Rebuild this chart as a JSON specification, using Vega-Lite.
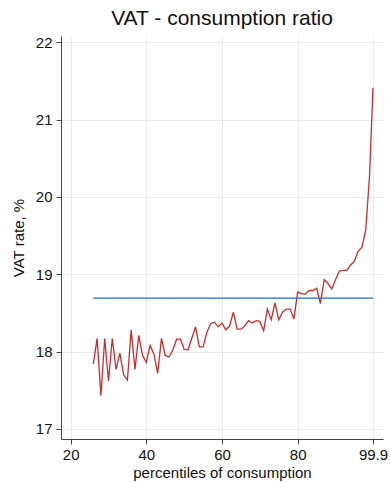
{
  "$schema": "https://vega.github.io/schema/vega-lite/v6.json",
  "width": 322,
  "height": 403,
  "autosize": {"type": "none"},
  "padding": {"left": 61, "top": 36, "right": 8, "bottom": 43},
  "background": "white",
  "title": {"text": "VAT - consumption ratio", "fontSize": 21, "font": "Liberation Sans", "fontWeight": "normal", "color": "#111", "anchor": "middle", "baseline": "alphabetic", "offset": -11},
  "config": {
    "view": {"stroke": null},
    "font": "Liberation Sans",
    "axis": {"labelFont": "Liberation Sans", "titleFont": "Liberation Sans", "labelFontSize": 15, "titleFontSize": 15, "titleFontWeight": "normal", "labelColor": "#111", "titleColor": "#111", "domainColor": "#444", "tickColor": "#444", "tickSize": 5, "gridColor": "#ebebeb", "gridWidth": 1}
  },
  "data": {"values": [
    {"pct": 26, "rate": 17.84, "s": "a"},
    {"pct": 27, "rate": 18.17, "s": "a"},
    {"pct": 28, "rate": 17.43, "s": "a"},
    {"pct": 29, "rate": 18.17, "s": "a"},
    {"pct": 30, "rate": 17.62, "s": "a"},
    {"pct": 31, "rate": 18.17, "s": "a"},
    {"pct": 32, "rate": 17.77, "s": "a"},
    {"pct": 33, "rate": 17.98, "s": "a"},
    {"pct": 34, "rate": 17.70, "s": "a"},
    {"pct": 35, "rate": 17.63, "s": "a"},
    {"pct": 36, "rate": 18.28, "s": "a"},
    {"pct": 37, "rate": 17.77, "s": "a"},
    {"pct": 38, "rate": 18.21, "s": "a"},
    {"pct": 39, "rate": 17.95, "s": "a"},
    {"pct": 40, "rate": 17.86, "s": "a"},
    {"pct": 41, "rate": 18.08, "s": "a"},
    {"pct": 42, "rate": 17.97, "s": "a"},
    {"pct": 43, "rate": 17.72, "s": "a"},
    {"pct": 44, "rate": 18.17, "s": "a"},
    {"pct": 45, "rate": 17.95, "s": "a"},
    {"pct": 46, "rate": 17.93, "s": "a"},
    {"pct": 47, "rate": 18.02, "s": "a"},
    {"pct": 48, "rate": 18.16, "s": "a"},
    {"pct": 49, "rate": 18.16, "s": "a"},
    {"pct": 50, "rate": 18.03, "s": "a"},
    {"pct": 51, "rate": 18.02, "s": "a"},
    {"pct": 52, "rate": 18.17, "s": "a"},
    {"pct": 53, "rate": 18.32, "s": "a"},
    {"pct": 54, "rate": 18.06, "s": "a"},
    {"pct": 55, "rate": 18.06, "s": "a"},
    {"pct": 56, "rate": 18.25, "s": "a"},
    {"pct": 57, "rate": 18.36, "s": "a"},
    {"pct": 58, "rate": 18.38, "s": "a"},
    {"pct": 59, "rate": 18.32, "s": "a"},
    {"pct": 60, "rate": 18.37, "s": "a"},
    {"pct": 61, "rate": 18.28, "s": "a"},
    {"pct": 62, "rate": 18.33, "s": "a"},
    {"pct": 63, "rate": 18.51, "s": "a"},
    {"pct": 64, "rate": 18.29, "s": "a"},
    {"pct": 65, "rate": 18.29, "s": "a"},
    {"pct": 66, "rate": 18.33, "s": "a"},
    {"pct": 67, "rate": 18.40, "s": "a"},
    {"pct": 68, "rate": 18.37, "s": "a"},
    {"pct": 69, "rate": 18.40, "s": "a"},
    {"pct": 70, "rate": 18.39, "s": "a"},
    {"pct": 71, "rate": 18.27, "s": "a"},
    {"pct": 72, "rate": 18.55, "s": "a"},
    {"pct": 73, "rate": 18.41, "s": "a"},
    {"pct": 74, "rate": 18.63, "s": "a"},
    {"pct": 75, "rate": 18.41, "s": "a"},
    {"pct": 76, "rate": 18.51, "s": "a"},
    {"pct": 77, "rate": 18.55, "s": "a"},
    {"pct": 78, "rate": 18.55, "s": "a"},
    {"pct": 79, "rate": 18.42, "s": "a"},
    {"pct": 80, "rate": 18.77, "s": "a"},
    {"pct": 81, "rate": 18.75, "s": "a"},
    {"pct": 82, "rate": 18.74, "s": "a"},
    {"pct": 83, "rate": 18.79, "s": "a"},
    {"pct": 84, "rate": 18.79, "s": "a"},
    {"pct": 85, "rate": 18.82, "s": "a"},
    {"pct": 86, "rate": 18.62, "s": "a"},
    {"pct": 87, "rate": 18.93, "s": "a"},
    {"pct": 88, "rate": 18.88, "s": "a"},
    {"pct": 89, "rate": 18.81, "s": "a"},
    {"pct": 90, "rate": 18.93, "s": "a"},
    {"pct": 91, "rate": 19.04, "s": "a"},
    {"pct": 92, "rate": 19.05, "s": "a"},
    {"pct": 93, "rate": 19.05, "s": "a"},
    {"pct": 94, "rate": 19.12, "s": "a"},
    {"pct": 95, "rate": 19.17, "s": "a"},
    {"pct": 96, "rate": 19.30, "s": "a"},
    {"pct": 97, "rate": 19.35, "s": "a"},
    {"pct": 98, "rate": 19.58, "s": "a"},
    {"pct": 99, "rate": 20.28, "s": "a"},
    {"pct": 99.9, "rate": 21.41, "s": "a"},
    {"pct": 26, "rate": 18.69, "s": "b"},
    {"pct": 99.9, "rate": 18.69, "s": "b"}
  ]},
  "mark": {"type": "line", "strokeWidth": 1.3, "interpolate": "linear"},
  "encoding": {
    "x": {"field": "pct", "type": "quantitative", "title": "percentiles of consumption",
      "scale": {"domain": [17.45, 102.55], "nice": false, "zero": false},
      "axis": {"values": [20, 40, 60, 80, 99.9], "labelExpr": "'' + datum.value", "labelPadding": 3, "titlePadding": 3, "labelFlush": false}},
    "y": {"field": "rate", "type": "quantitative", "title": "VAT rate, %",
      "scale": {"domain": [16.87, 22.08], "nice": false, "zero": false},
      "axis": {"values": [17, 18, 19, 20, 21, 22], "labelPadding": 4, "titlePadding": 9, "labelFlush": false}},
    "color": {"field": "s", "type": "nominal", "legend": null,
      "scale": {"domain": ["a", "b"], "range": ["#cf2a27", "#1f6dc2"]}}
  }
}
